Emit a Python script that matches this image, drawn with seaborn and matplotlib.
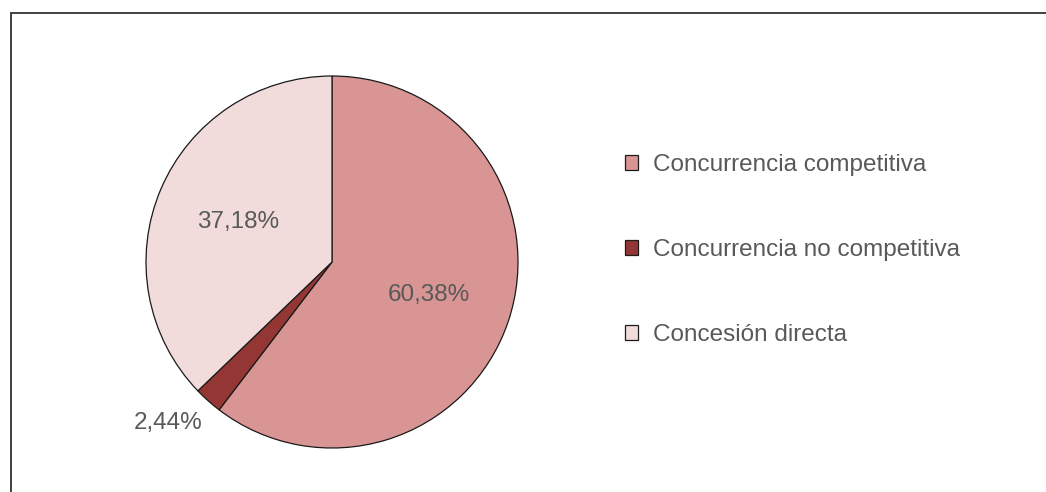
import matplotlib
matplotlib.use("Agg")
import matplotlib.pyplot as plt
import matplotlib.patches as mpatches
import numpy as np
import seaborn as sns

# datos
categorias = ["Concurrencia competitiva", "Concurrencia no competitiva", "Concesión directa"]
porcentajes = [60.38, 2.44, 37.18]
etiquetas = ["60,38%", "2,44%", "37,18%"]
colores = ["#D99594", "#943634", "#F2DCDB"]

sns.set_theme(style="white")
plt.rcParams["font.family"] = ["Liberation Sans", "DejaVu Sans"]
gris = "#595959"

fig = plt.figure(figsize=(10.46, 4.92), dpi=100)
ax = fig.add_axes([(332 - 186) / 1046, (492 - 262 - 186) / 492, 372 / 1046, 372 / 492])

wedges, _ = ax.pie(porcentajes, colors=sns.color_palette(colores), startangle=90,
                   counterclock=False, radius=1,
                   wedgeprops=dict(edgecolor="#1a1a1a", linewidth=0.9))
ax.set_xlim(-1, 1)
ax.set_ylim(-1, 1)
ax.set_aspect("equal")
ax.axis("off")

# etiquetas de porcentaje: dentro para las grandes, fuera para la pequeña
for w, txt, pct in zip(wedges, etiquetas, porcentajes):
    ang = np.deg2rad((w.theta1 + w.theta2) / 2)
    if pct > 10:
        ax.text(0.55 * np.cos(ang), 0.55 * np.sin(ang), txt, ha="center", va="center",
                fontsize=17.5, color=gris, clip_on=False)
    else:
        ax.text(1.07 * np.cos(ang) + 0.015, 1.07 * np.sin(ang) - 0.01, txt, ha="right", va="top",
                fontsize=17.5, color=gris, clip_on=False)

handles = [mpatches.Patch(facecolor=c, edgecolor="#1a1a1a", linewidth=0.9) for c in colores]
leg = fig.legend(handles, categorias, loc="center left",
                 bbox_to_anchor=(625 / 1046, 1 - 250 / 492), frameon=False,
                 fontsize=17.5, handlelength=0.55, handleheight=0.55,
                 handletextpad=0.6, labelspacing=2.6, borderpad=0, borderaxespad=0)
for t in leg.get_texts():
    t.set_color(gris)

# marco exterior
marco = mpatches.Rectangle((10.5 / 1046, -0.1), 1.2, 1.1 - 12.5 / 492,
                           transform=fig.transFigure, fill=False,
                           edgecolor="#333333", linewidth=1.3)
fig.patches.append(marco)

fig.savefig("out.png", dpi=100)
